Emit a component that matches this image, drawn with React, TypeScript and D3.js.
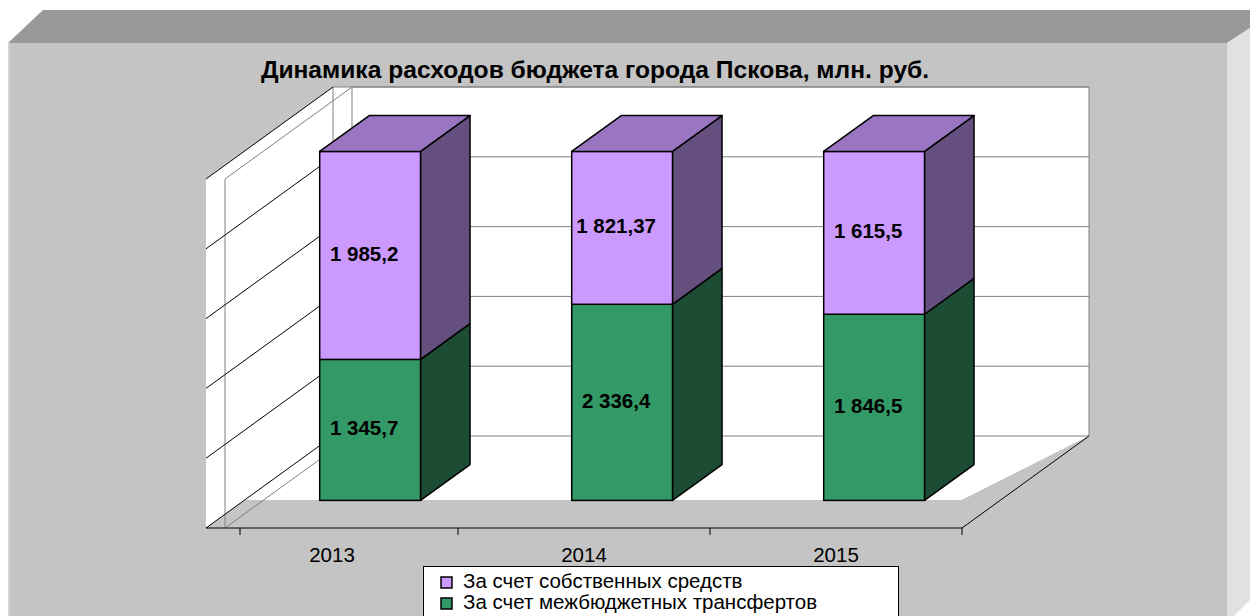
import React, { useEffect, useRef } from 'react';
import * as d3 from 'd3';

const years = ['2013', '2014', '2015'];
const transfers = [1345.7, 2336.4, 1846.5];
const ownFunds = [1985.2, 1821.37, 1615.5];
const seriesNames = ['За счет собственных средств', 'За счет межбюджетных трансфертов'];
const gridShares = [0, 0.2, 0.4, 0.6, 0.8, 1];
const title = 'Динамика расходов бюджета города Пскова, млн. руб.';

const W = 1250;
const H = 616;
const FONT = '"Liberation Sans", Arial, sans-serif';

const colors = {
    own: { front: '#cc99ff', top: '#9a76c2', side: '#654f7f' },
    transfers: { front: '#339966', top: '#267350', side: '#1c4c34' },
};

const App = () => {
    const svgRef = useRef(null);

    useEffect(() => {
        const svg = d3.select(svgRef.current);
        svg.selectAll('*').remove();

        // frame with bevels
        svg.append('rect').attr('width', W).attr('height', H).attr('fill', '#fff');
        svg.append('polygon').attr('points', '8,43 43,10 1250,10 1250,28 1227,43').attr('fill', '#999');
        svg.append('polygon').attr('points', '1227,43 1250,28 1250,600 1234,616 1227,616').attr('fill', '#e1e1e1');
        svg.append('rect').attr('x', 8).attr('y', 43).attr('width', 1219).attr('height', H - 43).attr('fill', '#c4c4c4');
        svg.append('rect').attr('x', 8).attr('y', 43).attr('width', 2).attr('height', H - 43).attr('fill', '#d4d4d4');

        // 3d plot geometry
        const x0 = 206, x1 = 962, floorY = 528, plotH = 349;
        const dx = 127, dy = -92, wall = 19, slab = 28;
        const zFront = 0.3, zBack = 0.69;

        const x = d3.scaleBand().domain(years).range([x0, x1]).paddingInner(0.6).paddingOuter(0.3);
        const y = d3.scaleLinear().domain([0, 1]).range([floorY, floorY - plotH]);
        const P = (px, v, z) => [px + dx * z, y(v) + dy * z];
        const pts = (arr) => arr.map(p => p.join(',')).join(' ');
        const line = (a, b, stroke) => svg.append('line')
            .attr('x1', a[0]).attr('y1', a[1]).attr('x2', b[0]).attr('y2', b[1])
            .attr('stroke', stroke).attr('stroke-width', 1);

        const slabLeft = x0 + slab * dx / -dy;
        // walls (white)
        svg.append('polygon')
            .attr('points', pts([P(x0, 1, 0), P(x0, 1, 1), P(x1, 1, 1), P(x1, 0, 1),
                [x1, floorY - slab], [slabLeft, floorY - slab], P(x0, 0, 0)]))
            .attr('fill', '#fff');
        // floor slab (no fill)
        svg.append('polygon')
            .attr('points', pts([P(x0, 0, 0), [slabLeft, floorY - slab], [x1, floorY - slab], P(x1, 0, 1), P(x1, 0, 0)]))
            .attr('fill', '#c4c4c4');

        const grey = '#808080';
        line(P(x0 + wall, 1, 0), P(x0 + wall, 0, 0), grey);
        line(P(x0 + wall, 1, 0), P(x0 + wall, 1, 1), grey);
        line(P(x0 + wall, 0, 0), P(x0 + wall, 0, 1), grey);
        line(P(x0, 1, 1), P(x0, 0, 1), grey);
        line(P(x0 + wall, 1, 1), P(x0 + wall, 0, 1), grey);
        line(P(x0, 1, 1), P(x1, 1, 1), grey);
        line(P(x1, 1, 1), P(x1, 0, 1), grey);
        gridShares.forEach(v => line(P(x0 + wall, v, 1), P(x1, v, 1), grey));
        gridShares.forEach(v => line(P(x0, v, 0), P(x0, v, 1), '#000'));

        // category axis
        line(P(x0, 0, 0), P(x1, 0, 0), '#000');
        line(P(x1, 0, 0), P(x1, 0, 1), '#000');
        const tickXs = [x0 + wall + 15, ...years.map((_, i) => x0 + x.step() * (i + 1))];
        tickXs.forEach(tx => line([tx, floorY], [tx, floorY + 7], '#000'));

        svg.append('g').selectAll('text')
            .data(years)
            .enter()
            .append('text')
            .attr('x', d => x(d) + x.bandwidth() / 2)
            .attr('y', 562)
            .attr('text-anchor', 'middle')
            .style('font-family', FONT)
            .style('font-size', '20.5px')
            .text(d => d);

        // stacked 100% bars
        const rows = years.map((yr, i) => ({ year: yr, transfers: transfers[i], own: ownFunds[i] }));
        const stacked = d3.stack().keys(['transfers', 'own']).offset(d3.stackOffsetExpand)(rows);

        const ruLocale = d3.formatLocale({ decimal: ',', thousands: ' ', grouping: [3], currency: ['', ''] });
        const fmt = ruLocale.format(',.2~f');

        const bars = svg.append('g');
        rows.forEach((row, i) => {
            const xl = x(row.year);
            const xr = xl + x.bandwidth();
            stacked.forEach((series, si) => {
                const [v0, v1] = series[i];
                const c = colors[series.key];
                bars.append('polygon')
                    .attr('points', pts([P(xr, v0, zFront), P(xr, v1, zFront), P(xr, v1, zBack), P(xr, v0, zBack)]))
                    .attr('fill', c.side).attr('stroke', '#000').attr('stroke-width', 1.5).attr('stroke-linejoin', 'round');
                const tl = P(xl, v1, zFront);
                const br = P(xr, v0, zFront);
                bars.append('rect')
                    .attr('x', tl[0]).attr('y', tl[1])
                    .attr('width', br[0] - tl[0]).attr('height', br[1] - tl[1])
                    .attr('fill', c.front).attr('stroke', '#000').attr('stroke-width', 1.5);
                if (si === stacked.length - 1) {
                    bars.append('polygon')
                        .attr('points', pts([P(xl, v1, zFront), P(xr, v1, zFront), P(xr, v1, zBack), P(xl, v1, zBack)]))
                        .attr('fill', c.top).attr('stroke', '#000').attr('stroke-width', 1.5).attr('stroke-linejoin', 'round');
                }
                bars.append('text')
                    .attr('x', (tl[0] + br[0]) / 2 - 6)
                    .attr('y', (tl[1] + br[1]) / 2 - 2)
                    .attr('text-anchor', 'middle')
                    .attr('dominant-baseline', 'central')
                    .style('font-family', FONT)
                    .style('font-size', '20.5px')
                    .style('font-weight', 'bold')
                    .text(fmt(row[series.key]));
            });
        });

        // title
        svg.append('text')
            .attr('x', 595)
            .attr('y', 78)
            .attr('text-anchor', 'middle')
            .style('font-family', FONT)
            .style('font-size', '24.6px')
            .style('font-weight', 'bold')
            .text(title);

        // legend
        const legend = svg.append('g');
        legend.append('rect')
            .attr('x', 423.5).attr('y', 566.5).attr('width', 475).attr('height', 70)
            .attr('fill', '#fff').attr('stroke', '#000').attr('stroke-width', 1);
        const legendItems = [
            { name: seriesNames[0], color: colors.own.front },
            { name: seriesNames[1], color: colors.transfers.front },
        ];
        legendItems.forEach((item, i) => {
            const base = 588 + i * 21;
            legend.append('rect')
                .attr('x', 441).attr('y', base - 11).attr('width', 11).attr('height', 11)
                .attr('fill', item.color).attr('stroke', '#000').attr('stroke-width', 1.5);
            legend.append('text')
                .attr('x', 463).attr('y', base)
                .style('font-family', FONT)
                .style('font-size', '20.5px')
                .text(item.name);
        });
    }, []);

    return (
        <svg ref={svgRef} width={W} height={H} style={{ position: 'absolute', left: 0, top: 0 }}></svg>
    );
};

export default App;
